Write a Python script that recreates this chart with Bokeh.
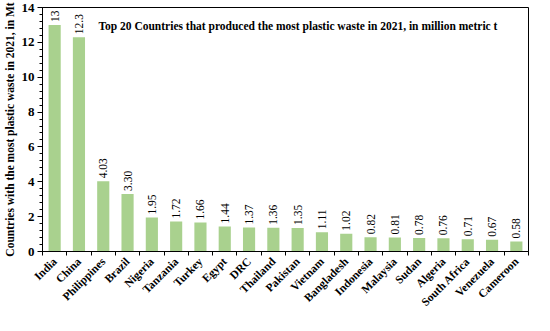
import math
from bokeh.plotting import figure
from bokeh.models import ColumnDataSource, FixedTicker, Label
from bokeh.embed import file_html
from bokeh.resources import INLINE

countries = ["India", "China", "Philippines", "Brazil", "Nigeria", "Tanzania", "Turkey",
             "Egypt", "DRC", "Thailand", "Pakistan", "Vietnam", "Bangladesh", "Indonesia",
             "Malaysia", "Sudan", "Algeria", "South Africa", "Venezuela", "Cameroon"]
values = [13, 12.3, 4.03, 3.30, 1.95, 1.72, 1.66, 1.44, 1.37, 1.36, 1.35, 1.11, 1.02,
          0.82, 0.81, 0.78, 0.76, 0.71, 0.67, 0.58]
value_labels = ["13", "12.3", "4.03", "3.30", "1.95", "1.72", "1.66", "1.44", "1.37", "1.36",
                "1.35", "1.11", "1.02", "0.82", "0.81", "0.78", "0.76", "0.71", "0.67", "0.58"]
y_ticks = [0, 2, 4, 6, 8, 10, 12, 14]
title_text = "Top 20 Countries that produced the most plastic waste in 2021, in million  metric t"
y_title = "Countries with the most plastic waste in 2021, in Mt"

FONT = "Liberation Serif"

xpos = [i + 0.5 for i in range(len(countries))]
src = ColumnDataSource(dict(x=xpos, top=values, lab=value_labels))

p = figure(width=534, height=315, x_range=(0, len(countries)), y_range=(0, 14),
           output_backend="svg", toolbar_location=None,
           min_border_left=6, min_border_right=6, min_border_top=7, min_border_bottom=4)

p.vbar(x="x", top="top", width=0.5, source=src, fill_color="#a9d18e", line_color=None)
p.text(x="x", y="top", text="lab", source=src, angle=math.pi / 2, text_align="left",
       text_baseline="middle", y_offset=-3, text_font_size="11.5px",
       text_font={"value": FONT}, text_color="black")

p.grid.visible = False
p.outline_line_color = "black"
p.outline_line_width = 1

# x axis
p.xaxis.ticker = FixedTicker(ticks=xpos, minor_ticks=list(range(len(countries) + 1)))
p.xaxis.major_label_overrides = {x: c for x, c in zip(xpos, countries)}
p.xaxis.major_label_orientation = math.pi / 4
p.xaxis.major_tick_in = 0
p.xaxis.major_tick_out = 0
p.xaxis.minor_tick_in = 0
p.xaxis.minor_tick_out = 4
p.xaxis.minor_tick_line_color = "black"
p.xaxis.major_label_standoff = 4
p.xaxis.major_label_text_font = FONT
p.xaxis.major_label_text_font_style = "bold"
p.xaxis.major_label_text_font_size = "11.5px"
p.xaxis.major_label_text_color = "black"
p.xaxis.axis_line_color = "black"

# y axis
minor = [t / 10 for t in range(0, 141, 4)]
p.yaxis.ticker = FixedTicker(ticks=y_ticks, minor_ticks=minor)
p.yaxis.major_tick_in = 0
p.yaxis.major_tick_out = 5
p.yaxis.minor_tick_in = 0
p.yaxis.minor_tick_out = 3
p.yaxis.major_tick_line_color = "black"
p.yaxis.minor_tick_line_color = "black"
p.yaxis.axis_line_color = "black"
p.yaxis.major_label_standoff = 3
p.yaxis.major_label_text_font = FONT
p.yaxis.major_label_text_font_style = "bold"
p.yaxis.major_label_text_font_size = "13px"
p.yaxis.major_label_text_color = "black"
p.yaxis.axis_label = y_title
p.yaxis.axis_label_text_font = FONT
p.yaxis.axis_label_text_font_style = "bold"
p.yaxis.axis_label_text_font_size = "11.5px"
p.yaxis.axis_label_text_color = "black"
p.yaxis.axis_label_standoff = 3

p.add_layout(Label(x=2.3, y=12.95, text=title_text, text_font=FONT, text_font_style="bold",
                   text_font_size="11.5px", text_baseline="middle", text_color="black"))

open("out.html", "w").write(file_html(p, INLINE))
